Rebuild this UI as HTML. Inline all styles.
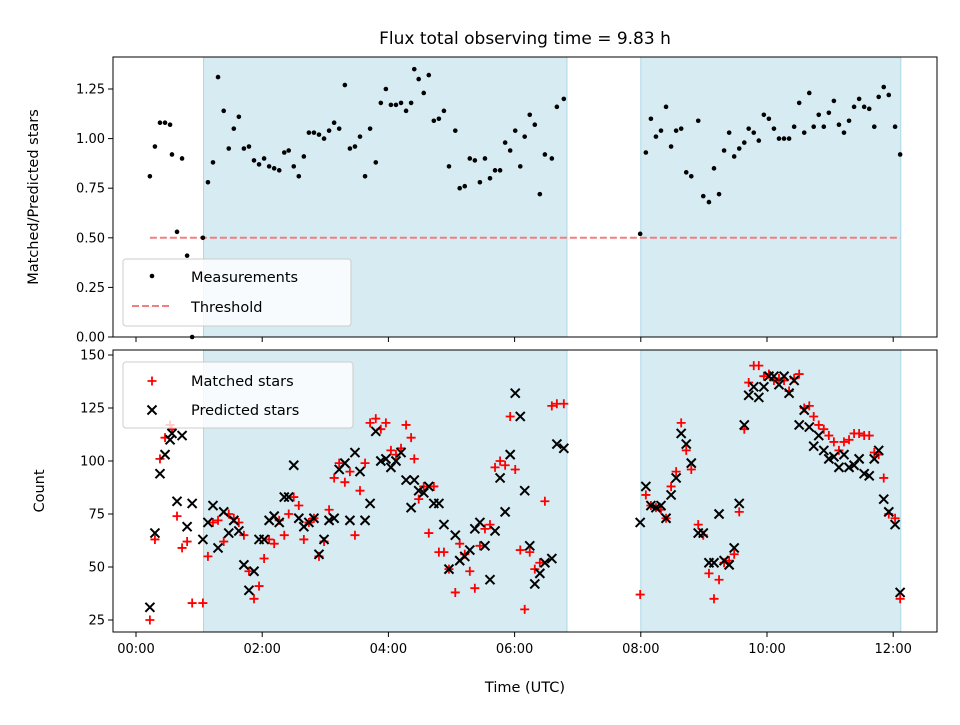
<!DOCTYPE html>
<html><head><meta charset="utf-8"><style>
body{margin:0;background:#fff}
svg{font-family:"DejaVu Sans","Liberation Sans",sans-serif}
</style></head><body>
<svg id="chart" width="960" height="720" viewBox="0 0 960 720" xmlns="http://www.w3.org/2000/svg"></svg>
<script>
const times1 = [0.22,0.30,0.38,0.46,0.54,0.57,0.65,0.73,0.81,0.89,1.06,1.14,1.22,1.30,1.39,1.47,1.55,1.63,1.71,1.79,1.87,1.95,2.03,2.11,2.19,2.27,2.35,2.42,2.50,2.58,2.66,2.74,2.82,2.90,2.98,3.06,3.14,3.22,3.31,3.39,3.47,3.55,3.63,3.71,3.80,3.88,3.96,4.04,4.12,4.20,4.28,4.36,4.41,4.48,4.56,4.64,4.72,4.80,4.88,4.96,5.06,5.13,5.21,5.29,5.37,5.45,5.53,5.61,5.69,5.77,5.85,5.93,6.01,6.09,6.16,6.24,6.32,6.40,6.48,6.59,6.67,6.78];
const times2 = [7.99,8.08,8.16,8.24,8.32,8.40,8.48,8.56,8.64,8.72,8.80,8.91,8.99,9.08,9.16,9.24,9.32,9.40,9.48,9.56,9.64,9.71,9.79,9.87,9.95,10.03,10.11,10.19,10.27,10.35,10.43,10.51,10.59,10.67,10.74,10.82,10.90,10.98,11.06,11.14,11.22,11.30,11.38,11.46,11.54,11.62,11.70,11.77,11.85,11.93,12.03,12.11];
const ratio1 = [.81,.96,1.08,1.08,1.07,.92,.53,.90,.41,0,.50,.78,.88,1.31,1.14,.95,1.05,1.11,.95,.96,.89,.87,.90,.86,.85,.84,.93,.94,.86,.81,.91,1.03,1.03,1.02,1.00,1.04,1.08,1.05,1.27,.95,.96,1.01,.81,1.05,.88,1.18,1.25,1.17,1.17,1.18,1.14,1.18,1.35,1.30,1.23,1.32,1.09,1.10,1.14,.86,1.04,.75,.76,.90,.89,.78,.90,.80,.84,.84,.98,.94,1.04,.86,1.01,1.12,1.07,.72,.92,.90,1.16,1.20];
const ratio2 = [.52,.93,1.10,1.01,1.04,1.16,.96,1.04,1.05,.83,.81,1.09,.71,.68,.85,.72,.94,1.03,.91,.95,.98,1.05,1.03,.99,1.12,1.10,1.05,1.00,1.00,1.00,1.06,1.18,1.03,1.23,1.06,1.12,1.06,1.13,1.19,1.07,1.03,1.09,1.16,1.20,1.16,1.15,1.06,1.21,1.26,1.22,1.06,.92];
const predicted1 = [31,66,94,103,110,113,81,112,69,80,63,71,79,59,76,66,72,67,51,39,48,63,63,72,74,71,83,83,98,73,69,71,73,56,63,72,73,96,99,72,104,95,72,80,114,100,101,97,100,104,91,78,91,86,85,88,80,80,70,49,65,53,55,58,68,71,60,44,67,92,76,103,132,121,86,60,42,47,52,54,108,106];
const predicted2 = [71,88,79,78,79,73,84,92,113,108,99,66,66,52,52,75,53,51,59,80,117,131,135,130,135,140,140,136,140,132,138,117,124,116,107,112,105,101,102,97,103,97,98,101,94,93,101,105,82,76,70,38];
const matched1 = [25,63,101,111,117,115,74,59,62,33,33,55,71,72,62,75,73,71,65,48,35,41,54,63,61,72,65,75,83,79,63,71,73,55,62,77,92,99,90,95,65,86,99,118,120,115,118,105,103,106,117,111,101,82,88,66,88,57,57,49,38,61,56,48,40,60,68,70,97,100,98,121,96,58,30,57,49,52,81,126,127,127];
const matched2 = [37,84,79,78,77,73,88,95,118,105,96,70,65,47,35,44,52,53,56,76,115,137,145,145,140,141,138,139,138,133,139,141,125,126,121,117,115,112,109,105,109,110,113,113,112,112,104,103,92,75,73,35];
const spans = [[1.07,6.83],[8.0,12.12]];
const threshold = 0.5;
const xTicks = [0,2,4,6,8,10,12];
const xTickLabels = ["00:00","02:00","04:00","06:00","08:00","10:00","12:00"];
const yTicksTop = [0,0.25,0.5,0.75,1.0,1.25];
const yTickLabelsTop = ["0.00","0.25","0.50","0.75","1.00","1.25"];
const yTicksBot = [25,50,75,100,125,150];

const svg = document.getElementById('chart');
const NS = 'http://www.w3.org/2000/svg';
function mk(tag, attrs, parent){const e=document.createElementNS(NS,tag);for(const k in attrs)e.setAttribute(k,attrs[k]);(parent||svg).appendChild(e);return e;}
const L=113,R=937;
const X = h => 136 + h*63.1;
const topP = {t:57,b:337}, botP={t:350,b:632};
const YT = v => 337 - v*198.4;
const YB = v => 355 + (150-v)*2.12;

function panel(p, name){
  const g = mk('g',{});
  
  
  spans.forEach(s=>{
    const r = mk('rect',{x:X(s[0]),y:p.t,width:X(s[1])-X(s[0]),height:p.b-p.t,fill:'#add8e6','fill-opacity':0.5,stroke:'#add8e6'},g);
    
    
  });
  return g;
}
function frame(p,g){
  const r = mk('rect',{x:L,y:p.t,width:R-L,height:p.b-p.t,fill:'none',stroke:'#000','stroke-width':1},g);
  
  
  xTicks.forEach(t=>mk('line',{x1:X(t),x2:X(t),y1:p.b,y2:p.b+5,stroke:'#000'},g));
}
// TOP
const gt = panel(topP,'ratio-panel');
const thr = mk('line',{x1:X(0.22),x2:X(12.11),y1:YT(threshold),y2:YT(threshold),stroke:'#f08080','stroke-width':2,'stroke-dasharray':'7,3'},gt);


[[times1,ratio1],[times2,ratio2]].forEach(([ts,vs])=>{
  ts.forEach((t,i)=>{ if(vs[i]===undefined)return;
    const c = mk('circle',{cx:X(t),cy:YT(vs[i]),r:2.3,fill:'#000'},gt);
    
    
  });
});
frame(topP,gt);
yTicksTop.forEach((v,i)=>{
  mk('line',{x1:L-5,x2:L,y1:YT(v),y2:YT(v),stroke:'#000'},gt);
  const t = mk('text',{x:L-8,y:YT(v)+4.5,'text-anchor':'end','font-size':13},gt);
  t.textContent = yTickLabelsTop[i];
  
  
});
// BOTTOM
const gb = panel(botP,'count-panel');
function plus(x,y,g){return mk('path',{d:`M${x-4.5},${y}H${x+4.5}M${x},${y-4.5}V${y+4.5}`,stroke:'#ff0000','stroke-width':1.8,fill:'none'},g);}
function cross(x,y,g){return mk('path',{d:`M${x-4.5},${y-4.5}L${x+4.5},${y+4.5}M${x-4.5},${y+4.5}L${x+4.5},${y-4.5}`,stroke:'#000','stroke-width':2,fill:'none'},g);}
[[times1,matched1],[times2,matched2]].forEach(([ts,vs])=>{
  ts.forEach((t,i)=>{ if(vs[i]===undefined)return;
    const p=plus(X(t),YB(vs[i]),gb);
    
    
  });
});
[[times1,predicted1],[times2,predicted2]].forEach(([ts,vs])=>{
  ts.forEach((t,i)=>{ if(vs[i]===undefined)return;
    const p=cross(X(t),YB(vs[i]),gb);
    
    
  });
});
frame(botP,gb);
yTicksBot.forEach(v=>{
  mk('line',{x1:L-5,x2:L,y1:YB(v),y2:YB(v),stroke:'#000'},gb);
  const t = mk('text',{x:L-8,y:YB(v)+4.5,'text-anchor':'end','font-size':13},gb);
  t.textContent = String(v);
  
  
});
xTicks.forEach((v,i)=>{
  const t = mk('text',{x:X(v),y:botP.b+21,'text-anchor':'middle','font-size':13},gb);
  t.textContent = xTickLabels[i];
  
  
});
// Legends
function legend(x,y,w,h,name){
  const g=mk('g',{});
  
  
  mk('rect',{x:x,y:y,width:w,height:h,rx:3,fill:'#fff','fill-opacity':0.8,stroke:'#cccccc'},g);
  return g;
}
const lg1 = legend(123,259,228,67,'top-legend');
mk('circle',{cx:152,cy:276,r:2.3,fill:'#000'},lg1);
let tx=mk('text',{x:191,y:282,'font-size':14.5},lg1); tx.textContent='Measurements';
mk('line',{x1:132,x2:172,y1:306,y2:306,stroke:'#f08080','stroke-width':2,'stroke-dasharray':'7,3'},lg1);
tx=mk('text',{x:191,y:312,'font-size':14.5},lg1); tx.textContent='Threshold';
const lg2 = legend(123,362,230,66,'bottom-legend');
plus(152,381,lg2);
tx=mk('text',{x:191,y:386,'font-size':14.5},lg2); tx.textContent='Matched stars';
cross(152,410,lg2);
tx=mk('text',{x:191,y:415,'font-size':14.5},lg2); tx.textContent='Predicted stars';
// Titles
let tt=mk('text',{x:525,y:44,'text-anchor':'middle','font-size':17});
tt.textContent='Flux total observing time = 9.83 h';


tt=mk('text',{x:525,y:692,'text-anchor':'middle','font-size':14.5});
tt.textContent='Time (UTC)';


tt=mk('text',{x:0,y:0,'text-anchor':'middle','font-size':14.5,transform:'translate(38,197) rotate(-90)'});
tt.textContent='Matched/Predicted stars';


tt=mk('text',{x:0,y:0,'text-anchor':'middle','font-size':14.5,transform:'translate(44,491) rotate(-90)'});
tt.textContent='Count';


</script>
</body></html>
